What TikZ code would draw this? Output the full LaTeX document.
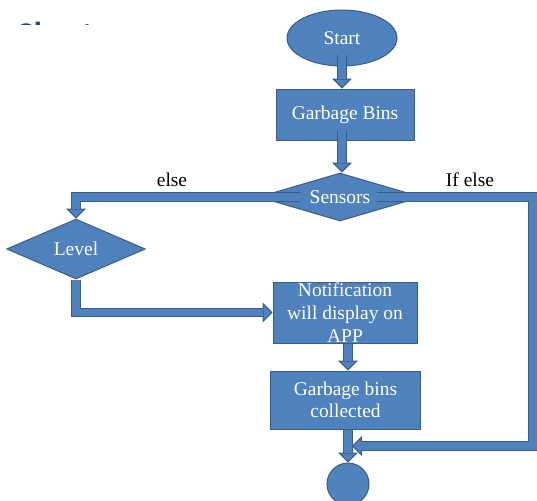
\documentclass[tikz,border=0pt]{standalone}
\usepackage{fontspec}
\setmainfont{Liberation Serif}
\newfontfamily\headfont{Carlito}
\usetikzlibrary{shapes.geometric, arrows.meta}
\definecolor{boxblue}{HTML}{4F81BD}
\definecolor{edgeblue}{HTML}{385D8A}
\definecolor{headblue}{HTML}{1F497D}

\begin{document}
\begin{tikzpicture}[x=0.75pt, y=-0.75pt,
    shapebox/.style={draw=edgeblue, fill=boxblue, line width=0.75pt, text=white, font=\fontsize{14.6}{17}\selectfont, align=center, inner sep=0pt},
    terminal/.style={shapebox, ellipse},
    endpoint/.style={shapebox, circle},
    process/.style={shapebox, rectangle},
    decision/.style={shapebox, diamond},
    branch/.style={font=\fontsize{14.6}{17}\selectfont},
    heading/.style={font=\headfont\bfseries\fontsize{26}{30}\selectfont, text=headblue, inner sep=0pt},
    flow/.style={draw=edgeblue, line width=7pt, -{Triangle[width=15pt, length=7.5pt, fill=boxblue, line width=0.75pt]}, postaction={draw=boxblue, line width=5.5pt, -, shorten >=7pt}}]
  \useasboundingbox (0,0) rectangle (537,501);

  % cut-off title
  \begin{scope}
    \clip (0,0) rectangle (150,24);
    \node[heading, anchor=base west] (title) at (15,46) {Chart};
  \end{scope}

  \node[terminal, minimum width=82.5pt, minimum height=42pt] (start) at (342,38) {Start};
  \node[process, minimum width=103.5pt, minimum height=38.25pt] (bins) at (345,114.5) {Garbage Bins};
  \node[decision, shape aspect=3.4, minimum width=122pt, minimum height=36pt] (sensors) at (340,197) {Sensors};
  \node[decision, shape aspect=2.3, minimum width=104pt, minimum height=45pt] (level) at (76,249) {Level};
  \node[process, minimum width=108pt, minimum height=45.75pt] (notify) at (345,312.5) {Notification\\will display on\\APP};
  \node[process, minimum width=113pt, minimum height=43.5pt] (collected) at (345.5,400) {Garbage bins\\collected};
  \node[endpoint, minimum size=31.5pt] (stop) at (348,484) {};

  \node[branch] (elseleft) at (172,180) {else};
  \node[branch] (elseright) at (470,180) {If else};

  \coordinate (turn) at (533,446);
  \coordinate (merge) at (352,446);

  % connectors
  \draw[flow] ([yshift=9pt]start.south) -- (start |- bins.north);
  \draw[flow] ([yshift=7pt]start |- bins.south) -- (start |- sensors.north);
  \draw[flow] ([xshift=-30pt]sensors.center) -| (level.north);
  \draw[flow] ([xshift=28pt]sensors.center) -| (turn) -- (merge);
  \draw[flow] (level.south) |- (notify.west);
  \draw[flow] (stop |- notify.south) -- (stop |- collected.north);
  \draw[flow] (stop |- collected.south) -- (stop.north);
\end{tikzpicture}
\end{document}
